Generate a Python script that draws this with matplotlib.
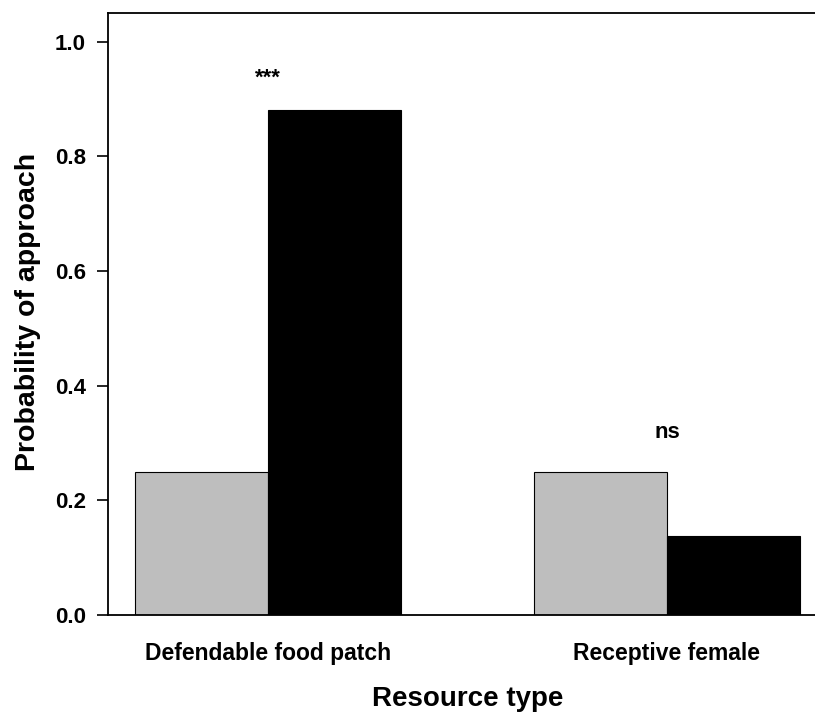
import matplotlib
matplotlib.use("Agg")
import matplotlib.pyplot as plt
import numpy as np

plt.rcParams['font.family'] = ['Liberation Sans', 'DejaVu Sans']

categories = ["Defendable food patch", "Receptive female"]
series_gray = [0.25, 0.25]
series_black = [0.88, 0.137]
annotations = ["***", "ns"]
annot_y = [0.937, 0.318]
yticks = [0.0, 0.2, 0.4, 0.6, 0.8, 1.0]

fig = plt.figure(figsize=(8.15, 7.12), dpi=100)
ax = fig.add_axes([108/815, 1-615/712, (826.6-108)/815, (615-13)/712])

# R barplot layout: beside=TRUE, space=c(0,1)
group_start = np.array([1.0, 4.0])
ax.bar(group_start, series_gray, width=1.0, align='edge', color='#BEBEBE',
       edgecolor='black', linewidth=0.8)
ax.bar(group_start + 1, series_black, width=1.0, align='edge', color='black',
       edgecolor='black', linewidth=0.8)

for gx, txt, ty in zip(group_start + 1, annotations, annot_y):
    ax.text(gx, ty, txt, ha='center', va='center', fontsize=16, fontweight='bold')

ax.set_xlim(0.8, 6.2)
ax.set_ylim(0, 1.05)
ax.set_yticks(yticks)
ax.set_yticklabels([f"{v:.1f}" for v in yticks], fontsize=16, fontweight='bold')
ax.set_xticks(group_start + 1)
ax.set_xticklabels(categories, fontsize=16.5, fontweight='bold')
ax.tick_params(axis='x', length=0, pad=19.5)
ax.tick_params(axis='y', length=8, width=1.2, pad=8, direction='out')
for s in ax.spines.values():
    s.set_linewidth(1.3)

fig.text(468/815, 1-706/712, "Resource type", ha='center', va='baseline',
         fontsize=20, fontweight='bold')
fig.text(28/815, 1-312/712, "Probability of approach", ha='center', va='center',
         rotation=90, fontsize=20.5, fontweight='bold')

fig.savefig("out.png", dpi=100)
